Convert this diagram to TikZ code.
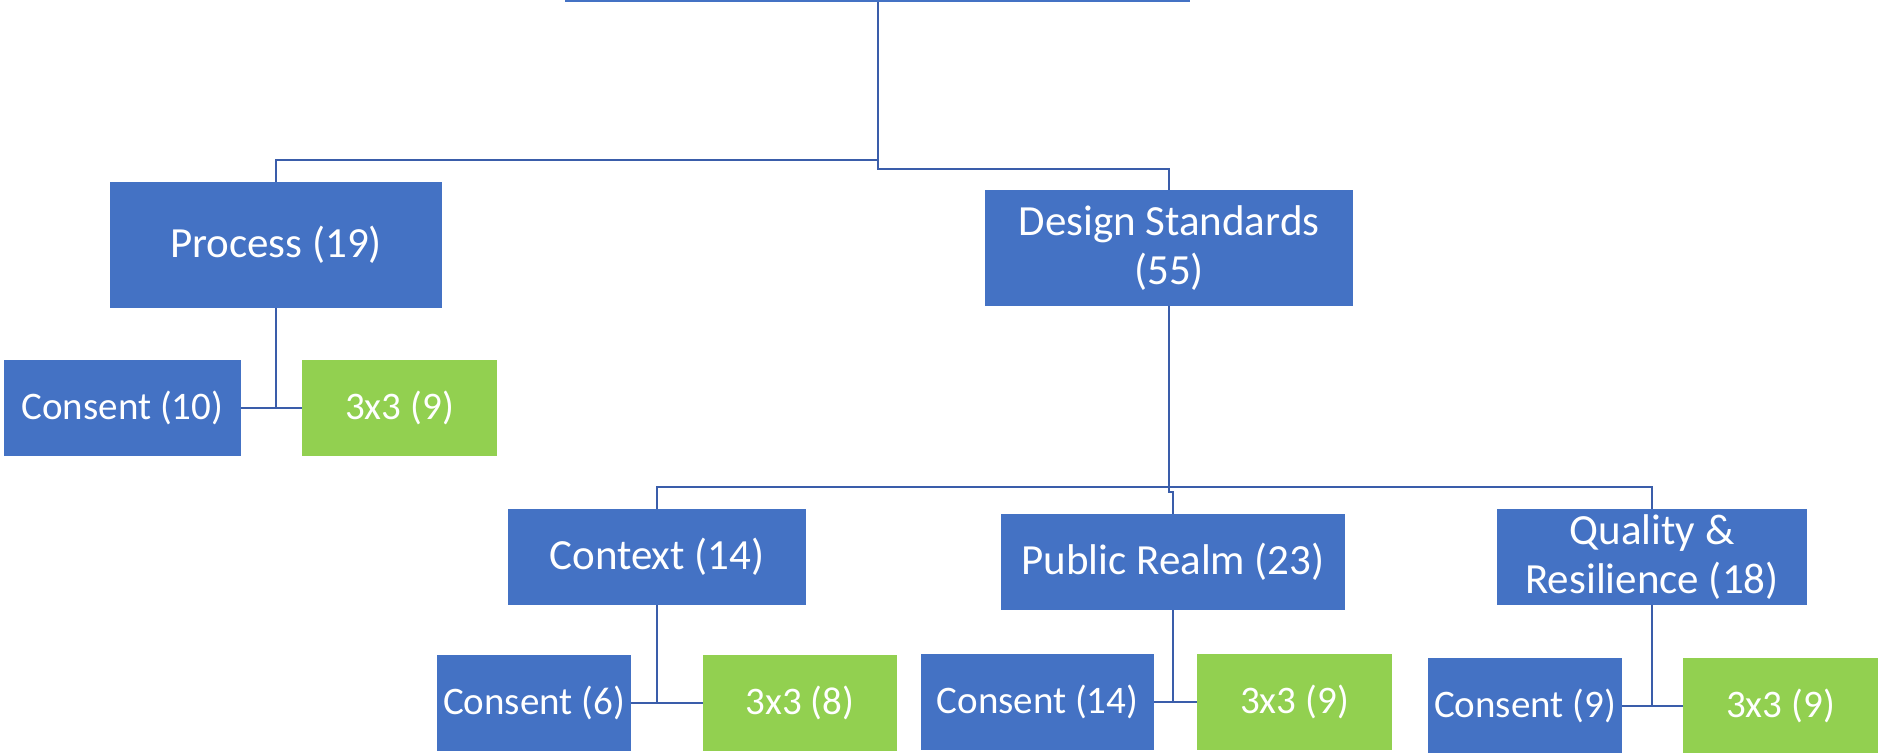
\documentclass[tikz,border=0pt]{standalone}
\usepackage{fontspec}
\setmainfont{Carlito}
\usetikzlibrary{positioning,calc}
\definecolor{BoxBlue}{HTML}{4472C4}
\definecolor{BoxGreen}{HTML}{92D050}
\definecolor{LinkBlue}{HTML}{3A5DAA}

\begin{document}
\begin{tikzpicture}[
  x=0.5pt, y=-0.5pt,
  box/.style={fill=BoxBlue, text=white, inner sep=0pt, align=center, font=\fontsize{21.5}{24.5}\selectfont},
  leaf/.style={fill=BoxBlue, text=white, inner sep=0pt, align=center, minimum height=48pt, font=\fontsize{19.5}{23}\selectfont},
  leafg/.style={leaf, fill=BoxGreen},
  link/.style={LinkBlue, line width=1pt}
]
\useasboundingbox (0,0) rectangle (1879,752);
% top level (cut off at the page edge)
\node[box, minimum width=312.5pt, minimum height=32pt] (top) at (877.5,-30) {};
% second level
\node[box, minimum width=166pt, minimum height=63pt] (proc) at (276,245) {Process (19)};
\node[box, minimum width=184pt, minimum height=58pt] (ds) at (1169,248) {Design Standards\\(55)};
% third level
\node[box, minimum width=149pt, minimum height=48pt] (ctx) at (657,557) {Context (14)};
\node[box, minimum width=172pt, minimum height=48pt] (pr) at (1173,562) {Public Realm (23)};
\node[box, minimum width=155pt, minimum height=48pt] (qr) at (1652,557) {Quality \&\\Resilience (18)};
% leaves
\node[leaf, minimum width=118.5pt] (c1) at (122.5,407.5) {Consent (10)};
\node[leafg, minimum width=97.5pt] (t1) at (399.5,407.5) {3x3 (9)};
\node[leaf, minimum width=97pt] (c2) at (534,703) {Consent (6)};
\node[leafg, minimum width=97pt] (t2) at (800,703) {3x3 (8)};
\node[leaf, minimum width=116.5pt] (c3) at (1037.5,702) {Consent (14)};
\node[leafg, minimum width=97.5pt] (t3) at (1294.5,702) {3x3 (9)};
\node[leaf, minimum width=97pt] (c4) at (1525,706) {Consent (9)};
\node[leafg, minimum width=97.5pt] (t4) at (1780.5,706) {3x3 (9)};
% connectors
\coordinate (rootfork) at (877.5,160);
\coordinate (dsfork) at (1169,487);
\draw[link] (top.south) -- (rootfork) -| (proc.north);
\draw[link] (rootfork) -- ++(0,9) -| (ds.north);
\draw[link] (ds.south) -- (dsfork);
\draw[link] (ctx.north) |- (dsfork) -| (qr.north);
\draw[link] (dsfork) -- ++(0,5) -| (pr.north);
\draw[link] (proc.south) -- (proc.south |- c1.east);
\draw[link] (c1.east) -- (t1.west);
\draw[link] (ctx.south) -- (ctx.south |- c2.east);
\draw[link] (c2.east) -- (t2.west);
\draw[link] (pr.south) -- (pr.south |- c3.east);
\draw[link] (c3.east) -- (t3.west);
\draw[link] (qr.south) -- (qr.south |- c4.east);
\draw[link] (c4.east) -- (t4.west);
\end{tikzpicture}
\end{document}
